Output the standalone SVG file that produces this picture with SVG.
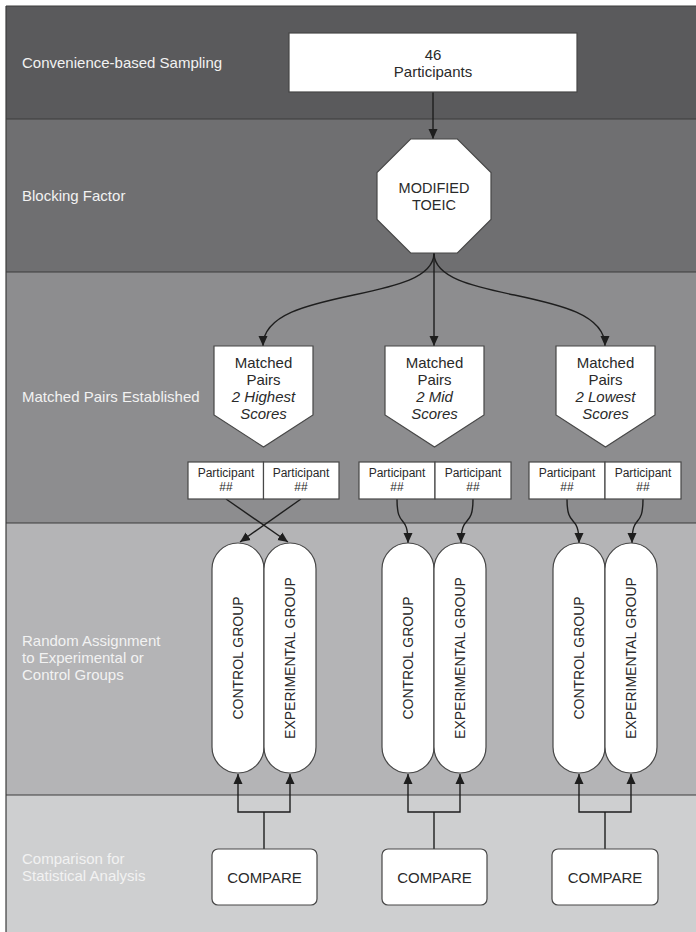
<svg xmlns="http://www.w3.org/2000/svg" width="696" height="932" viewBox="0 0 696 932">
<style>
.lbl{font-family:"Liberation Sans",Arial,sans-serif;font-size:15px;fill:#f2f2f2}
.t{font-family:"Liberation Sans",Arial,sans-serif;fill:#2a2a2a;text-anchor:middle}
.box{fill:#ffffff;stroke:#474747;stroke-width:1.2}
.sep{stroke:#3c3c3c;stroke-width:1.2}
.con{fill:none;stroke:#1e1e1e;stroke-width:1.4;marker-end:url(#ah)}
.conn{fill:none;stroke:#1e1e1e;stroke-width:1.4}
</style>
<defs>
<marker id="ah" markerUnits="userSpaceOnUse" markerWidth="10" markerHeight="10" viewBox="0 0 10 10" refX="10" refY="5" orient="auto">
<path d="M0,0.5 L10,5 L0,9.5 Z" fill="#1e1e1e"/>
</marker>
</defs>
<rect x="0" y="0" width="696" height="932" fill="#ffffff"/>
<g id="bands">
<rect x="6" y="6" width="690" height="113" fill="#5a5a5c"/>
<rect x="6" y="119" width="690" height="153" fill="#6f6f71"/>
<rect x="6" y="272" width="690" height="251" fill="#8d8d8f"/>
<rect x="6" y="523" width="690" height="272" fill="#b4b4b6"/>
<rect x="6" y="795" width="690" height="137" fill="#cecfd0"/>
<line class="sep" x1="6" y1="6" x2="696" y2="6"/>
<line class="sep" x1="6" y1="6" x2="6" y2="932"/>
<line class="sep" x1="6" y1="119" x2="696" y2="119"/>
<line class="sep" x1="6" y1="272" x2="696" y2="272"/>
<line class="sep" x1="6" y1="523" x2="696" y2="523"/>
<line class="sep" x1="6" y1="795" x2="696" y2="795"/>
<text class="lbl" x="22" y="68">Convenience-based Sampling</text>
<text class="lbl" x="22" y="201">Blocking Factor</text>
<text class="lbl" x="22" y="402">Matched Pairs Established</text>
<text class="lbl" x="22" y="646">Random Assignment</text>
<text class="lbl" x="22" y="663">to Experimental or</text>
<text class="lbl" x="22" y="680">Control Groups</text>
<text class="lbl" x="22" y="864">Comparison for</text>
<text class="lbl" x="22" y="881">Statistical Analysis</text>
</g>
<g id="connectors">
<path class="con" d="M433,92 V139"/>
<path class="con" d="M434,253 C434,305 263,285 263,346"/>
<path class="con" d="M434,253 V346"/>
<path class="con" d="M434,253 C434,305 605,285 605,346"/>
<path class="con" d="M226,499 L288,542"/>
<path class="con" d="M301,499 L240,542"/>
<path class="con" d="M397,499 C397,530 408,512 408,543"/>
<path class="con" d="M473,499 C473,530 461,512 461,543"/>
<path class="con" d="M567,499 C567,530 579,512 579,543"/>
<path class="con" d="M643,499 C643,530 632,512 632,543"/>
<path class="conn" d="M264,849 V812"/>
<path class="con" d="M264,812 H238 V774"/>
<path class="con" d="M264,812 H290 V774"/>
<path class="conn" d="M434,849 V812"/>
<path class="con" d="M434,812 H408 V774"/>
<path class="con" d="M434,812 H460 V774"/>
<path class="conn" d="M605,849 V812"/>
<path class="con" d="M605,812 H579 V774"/>
<path class="con" d="M605,812 H631 V774"/>
</g>
<g id="participants46">
<rect class="box" x="289" y="33" width="288" height="59"/>
<text class="t" x="433" y="60" font-size="15">46</text>
<text class="t" x="433" y="77" font-size="15">Participants</text>
</g>
<g id="toeic">
<polygon class="box" points="410.6,139 457.4,139 491,172.6 491,219.4 457.4,253 410.6,253 377,219.4 377,172.6"/>
<text class="t" x="434" y="193" font-size="14.5">MODIFIED</text>
<text class="t" x="434" y="210" font-size="14.5">TOEIC</text>
</g>
<g id="pair-high">
<polygon class="box" points="214,346 313,346 313,415 263.5,447 214,415"/>
<text class="t" x="263.5" y="368" font-size="15">Matched</text>
<text class="t" x="263.5" y="385" font-size="15">Pairs</text>
<text class="t" x="263.5" y="402" font-size="15" font-style="italic">2 Highest</text>
<text class="t" x="263.5" y="419" font-size="15" font-style="italic">Scores</text>
</g>
<g id="pair-mid">
<polygon class="box" points="385,346 484,346 484,415 434.5,447 385,415"/>
<text class="t" x="434.5" y="368" font-size="15">Matched</text>
<text class="t" x="434.5" y="385" font-size="15">Pairs</text>
<text class="t" x="434.5" y="402" font-size="15" font-style="italic">2 Mid</text>
<text class="t" x="434.5" y="419" font-size="15" font-style="italic">Scores</text>
</g>
<g id="pair-low">
<polygon class="box" points="556,346 655,346 655,415 605.5,447 556,415"/>
<text class="t" x="605.5" y="368" font-size="15">Matched</text>
<text class="t" x="605.5" y="385" font-size="15">Pairs</text>
<text class="t" x="605.5" y="402" font-size="15" font-style="italic">2 Lowest</text>
<text class="t" x="605.5" y="419" font-size="15" font-style="italic">Scores</text>
</g>
<g id="participants-high">
<rect class="box" x="188" y="462" width="75.5" height="37"/>
<rect class="box" x="263.5" y="462" width="75.5" height="37"/>
<text class="t" x="226" y="477" font-size="12">Participant</text>
<text class="t" x="226" y="491" font-size="12">##</text>
<text class="t" x="301" y="477" font-size="12">Participant</text>
<text class="t" x="301" y="491" font-size="12">##</text>
</g>
<g id="participants-mid">
<rect class="box" x="359" y="462" width="76" height="37"/>
<rect class="box" x="435" y="462" width="76" height="37"/>
<text class="t" x="397" y="477" font-size="12">Participant</text>
<text class="t" x="397" y="491" font-size="12">##</text>
<text class="t" x="473" y="477" font-size="12">Participant</text>
<text class="t" x="473" y="491" font-size="12">##</text>
</g>
<g id="participants-low">
<rect class="box" x="529" y="462" width="76" height="37"/>
<rect class="box" x="605" y="462" width="76" height="37"/>
<text class="t" x="567" y="477" font-size="12">Participant</text>
<text class="t" x="567" y="491" font-size="12">##</text>
<text class="t" x="643" y="477" font-size="12">Participant</text>
<text class="t" x="643" y="491" font-size="12">##</text>
</g>
<g id="groups-high">
<rect class="box" x="212" y="543" width="52" height="230" rx="26"/>
<rect class="box" x="264" y="543" width="52" height="230" rx="26"/>
<text class="t" font-size="14" transform="translate(243,658) rotate(-90)">CONTROL GROUP</text>
<text class="t" font-size="14" transform="translate(295,658) rotate(-90)">EXPERIMENTAL GROUP</text>
</g>
<g id="groups-mid">
<rect class="box" x="382" y="543" width="52" height="230" rx="26"/>
<rect class="box" x="434" y="543" width="52" height="230" rx="26"/>
<text class="t" font-size="14" transform="translate(413,658) rotate(-90)">CONTROL GROUP</text>
<text class="t" font-size="14" transform="translate(465,658) rotate(-90)">EXPERIMENTAL GROUP</text>
</g>
<g id="groups-low">
<rect class="box" x="553" y="543" width="52" height="230" rx="26"/>
<rect class="box" x="605" y="543" width="52" height="230" rx="26"/>
<text class="t" font-size="14" transform="translate(584,658) rotate(-90)">CONTROL GROUP</text>
<text class="t" font-size="14" transform="translate(636,658) rotate(-90)">EXPERIMENTAL GROUP</text>
</g>
<g id="compare-high">
<rect class="box" x="212" y="849" width="105" height="56" rx="6"/>
<text class="t" x="264.5" y="883" font-size="15">COMPARE</text>
</g>
<g id="compare-mid">
<rect class="box" x="382" y="849" width="105" height="56" rx="6"/>
<text class="t" x="434.5" y="883" font-size="15">COMPARE</text>
</g>
<g id="compare-low">
<rect class="box" x="552" y="849" width="106" height="56" rx="6"/>
<text class="t" x="605" y="883" font-size="15">COMPARE</text>
</g>
</svg>
